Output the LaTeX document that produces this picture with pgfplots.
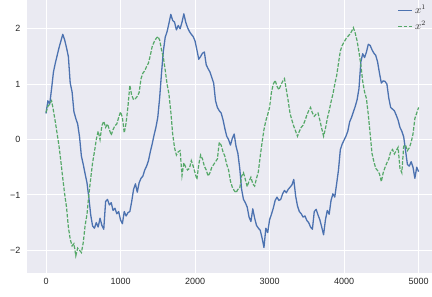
\documentclass[border=0pt]{standalone}
\usepackage{pgfplots}
\pgfplotsset{compat=1.18}
\usepackage{pgfplotstable}
\usepackage{fontspec}
\setmainfont{Liberation Sans}
\definecolor{bgc}{HTML}{EAEAF2}
\definecolor{sbblue}{HTML}{4C72B0}
\definecolor{sbgreen}{HTML}{55A868}
\definecolor{txt}{HTML}{262626}

\pgfplotstableread[row sep=\\]{
y\\
0.47\\ 0.70\\ 0.64\\ 0.92\\ 1.22\\ 1.38\\ 1.52\\ 1.66\\
1.78\\ 1.90\\ 1.80\\ 1.66\\ 1.50\\ 1.02\\ 0.86\\ 0.50\\
0.38\\ 0.28\\ 0.05\\ -0.30\\ -0.45\\ -0.62\\ -0.78\\ -1.05\\
-1.36\\ -1.56\\ -1.60\\ -1.50\\ -1.58\\ -1.42\\ -1.55\\ -1.62\\
-1.12\\ -1.08\\ -1.18\\ -1.14\\ -1.28\\ -1.24\\ -1.34\\ -1.30\\
-1.45\\ -1.52\\ -1.30\\ -1.38\\ -1.32\\ -1.30\\ -1.12\\ -0.90\\
-0.80\\ -0.95\\ -0.78\\ -0.70\\ -0.66\\ -0.55\\ -0.48\\ -0.38\\
-0.22\\ -0.08\\ 0.08\\ 0.22\\ 0.40\\ 0.75\\ 1.20\\ 1.60\\
1.85\\ 1.95\\ 2.10\\ 2.26\\ 2.15\\ 2.12\\ 1.98\\ 2.06\\
2.00\\ 2.12\\ 2.27\\ 2.12\\ 2.02\\ 1.95\\ 1.90\\ 1.86\\
1.78\\ 1.62\\ 1.45\\ 1.50\\ 1.56\\ 1.58\\ 1.35\\ 1.28\\
1.22\\ 1.12\\ 1.02\\ 0.70\\ 0.58\\ 0.52\\ 0.48\\ 0.36\\
0.20\\ 0.06\\ 0.00\\ -0.10\\ 0.02\\ 0.10\\ -0.12\\ -0.25\\
-0.52\\ -0.90\\ -1.08\\ -1.14\\ -1.22\\ -1.40\\ -1.48\\ -1.25\\
-1.42\\ -1.55\\ -1.60\\ -1.64\\ -1.78\\ -1.95\\ -1.60\\ -1.68\\
-1.45\\ -1.35\\ -1.24\\ -1.10\\ -1.04\\ -1.10\\ -1.08\\ -0.98\\
-0.92\\ -0.96\\ -0.90\\ -0.86\\ -0.82\\ -0.72\\ -1.02\\ -1.20\\
-1.30\\ -1.34\\ -1.40\\ -1.38\\ -1.46\\ -1.50\\ -1.58\\ -1.62\\
-1.30\\ -1.26\\ -1.36\\ -1.45\\ -1.58\\ -1.72\\ -1.45\\ -1.28\\
-1.35\\ -1.10\\ -0.98\\ -1.04\\ -0.80\\ -0.55\\ -0.18\\ -0.08\\
-0.01\\ 0.06\\ 0.15\\ 0.32\\ 0.40\\ 0.50\\ 0.60\\ 0.72\\
0.92\\ 1.40\\ 1.55\\ 1.48\\ 1.58\\ 1.72\\ 1.70\\ 1.62\\
1.56\\ 1.52\\ 1.40\\ 1.20\\ 1.02\\ 1.06\\ 1.05\\ 1.00\\
0.75\\ 0.58\\ 0.55\\ 0.52\\ 0.44\\ 0.35\\ 0.22\\ 0.15\\
0.05\\ -0.20\\ -0.45\\ -0.48\\ -0.40\\ -0.50\\ -0.70\\ -0.50\\
-0.58\\
}\serA

\pgfplotstableread[row sep=\\]{
y\\
0.49\\ 0.60\\ 0.64\\ 0.70\\ 0.52\\ 0.32\\ 0.10\\ -0.12\\
-0.40\\ -0.70\\ -0.98\\ -1.22\\ -1.58\\ -1.80\\ -1.92\\ -1.88\\
-2.10\\ -1.96\\ -2.00\\ -2.04\\ -1.86\\ -1.55\\ -1.35\\ -1.00\\
-0.70\\ -0.42\\ -0.22\\ 0.00\\ 0.15\\ 0.00\\ 0.25\\ 0.33\\
0.22\\ 0.28\\ 0.18\\ 0.08\\ 0.18\\ 0.25\\ 0.28\\ 0.40\\
0.50\\ 0.40\\ 0.12\\ 0.30\\ 0.60\\ 0.98\\ 0.80\\ 0.72\\
0.74\\ 0.78\\ 0.85\\ 1.10\\ 1.20\\ 1.24\\ 1.32\\ 1.38\\
1.52\\ 1.68\\ 1.76\\ 1.82\\ 1.86\\ 1.80\\ 1.62\\ 1.48\\
1.25\\ 1.00\\ 0.82\\ 0.50\\ 0.10\\ -0.15\\ -0.28\\ -0.22\\
-0.20\\ -0.65\\ -0.42\\ -0.50\\ -0.55\\ -0.52\\ -0.38\\ -0.48\\
-0.60\\ -0.72\\ -0.45\\ -0.28\\ -0.35\\ -0.48\\ -0.55\\ -0.66\\
-0.60\\ -0.50\\ -0.45\\ -0.40\\ -0.35\\ -0.05\\ -0.10\\ -0.22\\
-0.30\\ -0.45\\ -0.55\\ -0.75\\ -0.86\\ -0.92\\ -0.96\\ -0.90\\
-0.88\\ -0.66\\ -0.60\\ -0.72\\ -0.85\\ -0.75\\ -0.68\\ -0.80\\
-0.84\\ -0.70\\ -0.58\\ -0.30\\ -0.05\\ 0.18\\ 0.34\\ 0.45\\
0.58\\ 0.85\\ 1.00\\ 1.07\\ 0.96\\ 0.90\\ 0.98\\ 1.05\\
1.10\\ 0.90\\ 0.70\\ 0.47\\ 0.35\\ 0.24\\ 0.15\\ 0.06\\
0.15\\ 0.22\\ 0.26\\ 0.34\\ 0.44\\ 0.52\\ 0.58\\ 0.48\\
0.42\\ 0.46\\ 0.48\\ 0.35\\ 0.20\\ 0.06\\ 0.20\\ 0.38\\
0.52\\ 0.68\\ 0.82\\ 1.00\\ 1.15\\ 1.38\\ 1.60\\ 1.70\\
1.76\\ 1.82\\ 1.86\\ 1.90\\ 1.95\\ 2.02\\ 1.92\\ 1.78\\
1.58\\ 1.35\\ 1.05\\ 0.86\\ 0.74\\ 0.45\\ 0.10\\ -0.25\\
-0.40\\ -0.52\\ -0.56\\ -0.62\\ -0.76\\ -0.60\\ -0.50\\ -0.42\\
-0.35\\ -0.22\\ -0.18\\ -0.26\\ -0.20\\ -0.14\\ -0.52\\ -0.60\\
-0.12\\ -0.10\\ -0.20\\ -0.15\\ -0.05\\ 0.10\\ 0.38\\ 0.48\\
0.58\\
}\serB

\begin{document}
\begin{tikzpicture}
\begin{axis}[
  name=ax,
  scale only axis,
  width=405pt, height=273pt,
  xmin=-255, xmax=5180, ymin=-2.41, ymax=2.52,
  axis background/.style={fill=bgc},
  axis line style={draw=none},
  major tick length=0pt,
  grid=major,
  grid style={white, line width=1pt},
  xtick={0,1000,2000,3000,4000,5000},
  xticklabels={0,1000,2000,3000,4000,5000},
  ytick={-2,-1,0,1,2},
  yticklabels={−2,−1,0,1,2},
  tick label style={font=\fontsize{9}{10}\selectfont, text=txt},
  xticklabel style={yshift=-2pt},
  yticklabel style={xshift=-3pt},
  legend style={at={(1,1)}, anchor=north east, draw=none, fill=none,
    font=\fontsize{10.5}{12}\selectfont, text=txt, xshift=-2pt, yshift=-1pt,
    row sep=2pt, inner sep=2pt},
  legend cell align=left,
  legend image code/.code={\draw[#1] (0pt,0pt) -- (14pt,0pt);},
]
\addplot[sbblue, line width=1.3pt, line join=round]
  table[x expr=\coordindex*25, y index=0] {\serA};
\addlegendentry{$x^1$}
\addplot[sbgreen, line width=1.2pt, dash pattern=on 3.7pt off 1.6pt]
  table[x expr=\coordindex*25, y index=0] {\serB};
\addlegendentry{$x^2$}
\end{axis}
\pgfresetboundingbox
\path (ax.south west) ++(-27pt,-23pt) rectangle (ax.north east);
\end{tikzpicture}
\end{document}
